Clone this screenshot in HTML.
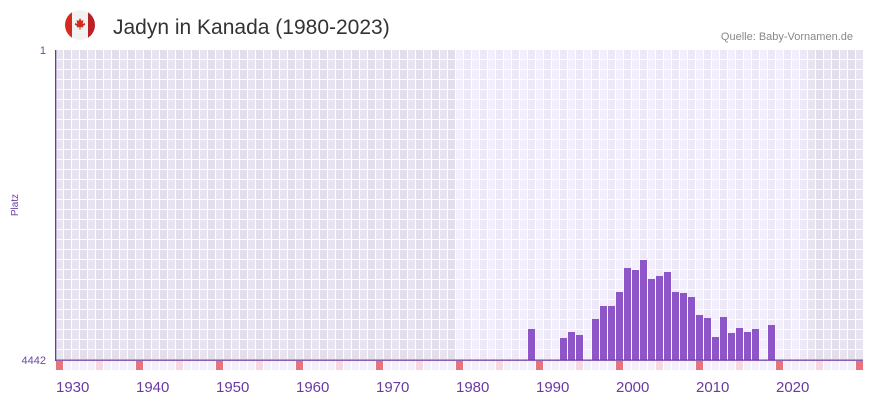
<!DOCTYPE html>
<html><head><meta charset="utf-8"><style>
body{margin:0;background:#fff;width:873px;height:402px;overflow:hidden;font-family:"Liberation Sans",sans-serif}
</style></head><body>
<svg id="s" width="873" height="402" xmlns="http://www.w3.org/2000/svg" font-family="Liberation Sans, sans-serif">
<defs><clipPath id="c"><circle cx="80" cy="25" r="15"/></clipPath></defs>
<g clip-path="url(#c)">
<rect x="65" y="10" width="30" height="30" fill="#f2f2f2"/>
<rect x="64" y="10" width="8" height="30" fill="#d52b1e"/>
<rect x="88" y="10" width="8" height="30" fill="#b92127"/>
<path d="M80,18 l1.5,3 2,-1 -0.8,4 2,-1 0.5,1.5 -2.5,2 0.5,1 -2.7,-0.4 0,2.5 -1,0 0,-2.5 -2.7,0.4 0.5,-1 -2.5,-2 0.5,-1.5 2,1 -0.8,-4 2,1z" fill="#d52b1e"/>
</g>
<text x="113" y="34" font-size="21" fill="#333">Jadyn in Kanada (1980-2023)</text>
<text x="853" y="40" font-size="11" fill="#888" text-anchor="end">Quelle: Baby-Vornamen.de</text>
<text x="46" y="54" font-size="11" fill="#6a4a9a" text-anchor="end">1</text>
<text x="46" y="364" font-size="11" fill="#6a4a9a" text-anchor="end">4442</text>
<text x="18" y="205" font-size="10" fill="#6a3aa0" text-anchor="middle" transform="rotate(-90 18 205)">Platz</text>
<g id="g"></g>
</svg>
<script>
var g=document.getElementById('g'),h='';
function r(x,y,w,hh,c){h+='<rect x="'+x+'" y="'+y+'" width="'+w+'" height="'+hh+'" fill="'+c+'"/>';}
for(var y=1927;y<=2031;y++){
 var x=56+(y-1930)*8; if(x<55)continue;
 var inside=y>=1980&&y<=2023, alt=y%2;
 var c=inside?(alt?'#ede8f7':'#f2eefb'):(alt?'#e2deeb':'#e7e3ef');
 var w=Math.min(8,863-x); if(w<=0)continue;
 r(x,50,w,310,c);
 var d=y%10, bc=d==0?'#e8737a':(d==5?'#f5d8e0':'#f3f0fb');
 r(x,361,w,9,bc);
}
for(var x=63;x<863;x+=8) r(x,50,1,320,'#fff');
for(var yy=59;yy<360;yy+=10) r(55,yy,808,1,'#fff');
var tops={1989:329,1993:338,1994:332,1995:335,1997:319,1998:306,1999:306,2000:292,2001:268,2002:270,2003:260,2004:279,2005:276,2006:272,2007:292,2008:293,2009:297,2010:315,2011:318,2012:337,2013:317,2014:333,2015:328,2016:332,2017:329,2019:325};
for(var k in tops){var x=56+(k-1930)*8; r(x,tops[k],7,360-tops[k],'#8e55c8');}
r(55,50,1.3,311,'#6a3aa0'); r(55,359.5,808,1.3,'#6a3aa0');
for(var y=1930;y<=2020;y+=10){var x=56+(y-1930)*8;h+='<text x="'+x+'" y="392" font-size="15" fill="#6a3aa0">'+y+'</text>';}
g.innerHTML=h;
</script>
</body></html>
